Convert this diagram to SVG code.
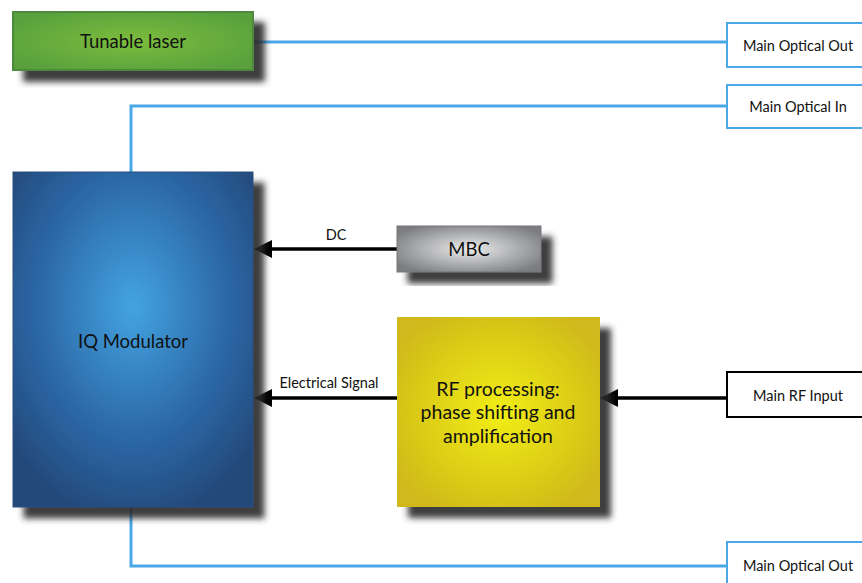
<svg xmlns="http://www.w3.org/2000/svg" width="862" height="583" viewBox="0 0 862 583">
<defs>
<filter id="sh" x="-20%" y="-20%" width="150%" height="150%">
<feGaussianBlur in="SourceAlpha" stdDeviation="3"/>
<feOffset dx="11" dy="11" result="b"/>
<feFlood flood-color="#2a2a2a" flood-opacity="0.9"/>
<feComposite in2="b" operator="in" result="s"/>
<feMerge><feMergeNode in="s"/><feMergeNode in="SourceGraphic"/></feMerge>
</filter>
<radialGradient id="gGreen" cx="50%" cy="50%" r="60%"><stop offset="0" stop-color="#7cbc3e"/><stop offset="1" stop-color="#58a13c"/></radialGradient>
<radialGradient id="gBlue" cx="50%" cy="40%" r="65%"><stop offset="0" stop-color="#43a4e0"/><stop offset="0.6" stop-color="#2c68a8"/><stop offset="1" stop-color="#24497a"/></radialGradient>
<radialGradient id="gGray" cx="50%" cy="50%" r="60%"><stop offset="0" stop-color="#ececec"/><stop offset="1" stop-color="#7b7d80"/></radialGradient>
<radialGradient id="gYellow" cx="50%" cy="50%" r="60%"><stop offset="0" stop-color="#f2ee16"/><stop offset="1" stop-color="#cfb91a"/></radialGradient>
<marker id="ah" viewBox="0 0 10 10" refX="0" refY="5" markerWidth="22" markerHeight="18" markerUnits="userSpaceOnUse" orient="auto-start-reverse">
<path d="M0,0 L10,5 L0,10 z" fill="#000"/>
</marker>
</defs>
<style>
.t{font-family:"Lato","Liberation Sans",sans-serif;fill:#111;text-anchor:middle}
.big{font-size:18.5px}
.rf{font-size:19.5px}
.sm{font-size:14.5px}
.port{fill:#fff;stroke:#4aa8e8;stroke-width:2}
.opt{fill:none;stroke:#4aa8e8;stroke-width:3}
.sig{fill:none;stroke:#000;stroke-width:3.5}
</style>
<rect width="862" height="583" fill="#fff"/>
<g id="connectors">
<path class="opt" d="M253,42 H727"/>
<path class="opt" d="M131,172 V106 H727"/>
<path class="opt" d="M131,507 V566 H727"/>
<path class="sig" d="M397,249 H272" marker-end="url(#ah)"/>
<path class="sig" d="M397,398 H272" marker-end="url(#ah)"/>
<path class="sig" d="M726,398 H618" marker-end="url(#ah)"/>
<text class="t sm" x="336" y="240">DC</text>
<text class="t sm" x="329" y="388">Electrical Signal</text>
</g>
<g id="tunable-laser">
<rect x="13" y="12" width="240" height="58" fill="url(#gGreen)" stroke="#4e8a3c" stroke-width="2" filter="url(#sh)"/>
<text class="t big" x="133" y="48">Tunable laser</text>
</g>
<g id="iq-modulator">
<rect x="13" y="172" width="240" height="335" fill="url(#gBlue)" stroke="#2a4f7e" stroke-width="1" filter="url(#sh)"/>
<text class="t big" x="133" y="348">IQ Modulator</text>
</g>
<g id="mbc">
<rect x="397" y="226" width="144" height="46" fill="url(#gGray)" stroke="#777" stroke-width="1" filter="url(#sh)"/>
<text class="t big" x="469" y="256">MBC</text>
</g>
<g id="rf-processing">
<rect x="397" y="317" width="203" height="190" fill="url(#gYellow)" filter="url(#sh)"/>
<text class="t rf" x="498" y="396">RF processing:</text>
<text class="t rf" x="498" y="419">phase shifting and</text>
<text class="t rf" x="498" y="443">amplification</text>
</g>
<g id="main-optical-out-top">
<rect class="port" x="727" y="23" width="140" height="44"/>
<text class="t sm" x="798" y="51">Main Optical Out</text>
</g>
<g id="main-optical-in">
<rect class="port" x="727" y="85" width="140" height="43"/>
<text class="t sm" x="798" y="112">Main Optical In</text>
</g>
<g id="main-rf-input">
<rect x="727" y="372" width="140" height="45" fill="#fff" stroke="#000" stroke-width="2"/>
<text class="t sm" x="798" y="401">Main RF Input</text>
</g>
<g id="main-optical-out-bottom">
<rect class="port" x="727" y="542" width="140" height="45"/>
<text class="t sm" x="798" y="571">Main Optical Out</text>
</g>
</svg>
